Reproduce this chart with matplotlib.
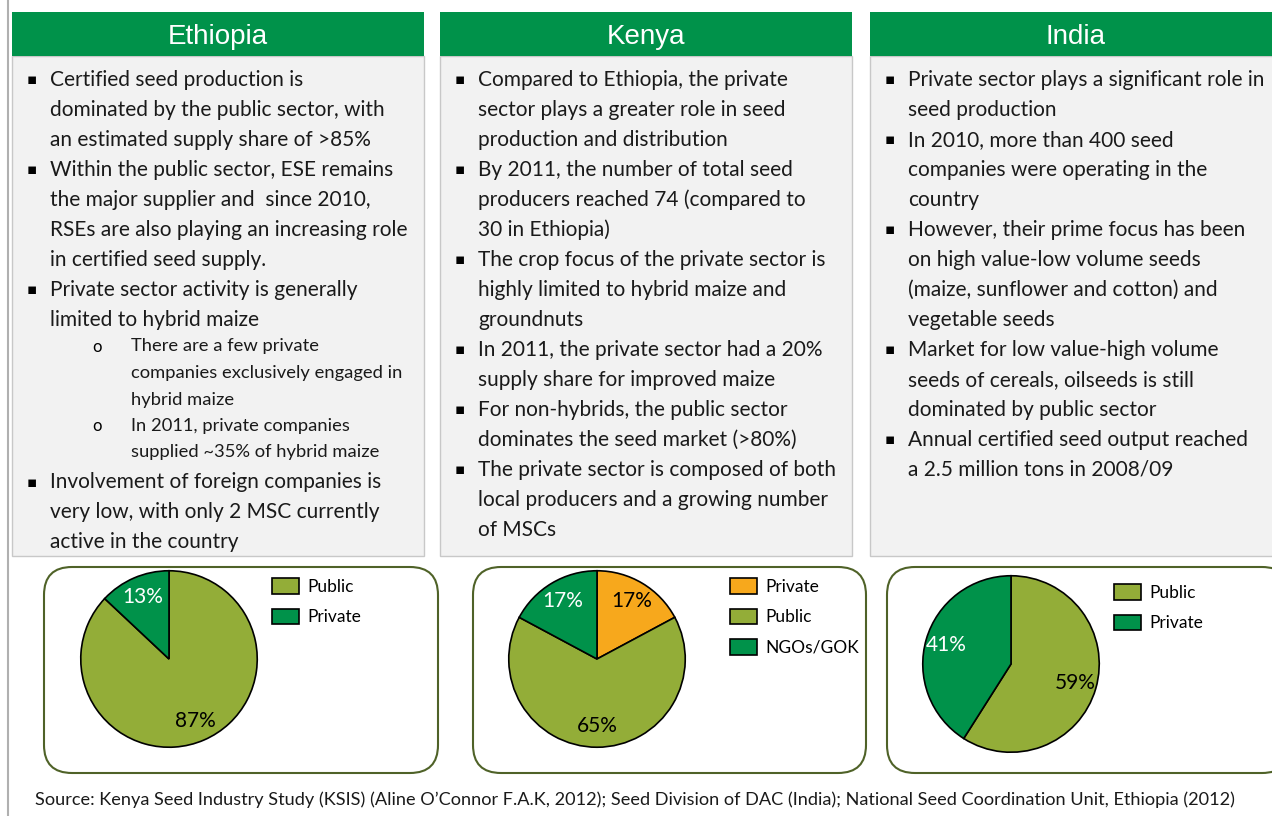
import matplotlib.pyplot as plt
from matplotlib.patches import Rectangle, FancyBboxPatch

plt.rcParams['font.family'] = ['Lato', 'DejaVu Sans']

W, H = 1272, 816

# ---- data ----
countries = ["Ethiopia", "Kenya", "India"]

eth_labels = ["Public", "Private"]
eth_share = [87, 13]
ken_labels = ["Private", "Public", "NGOs/GOK"]
ken_share = [17, 65, 17]
ind_labels = ["Public", "Private"]
ind_share = [59, 41]

eth_text = [
    (0, ["Certified seed production is", "dominated by the public sector, with",
         "an estimated supply share of >85%"]),
    (0, ["Within the public sector, ESE remains", "the major supplier and  since 2010,",
         "RSEs are also playing an increasing role", "in certified seed supply."]),
    (0, ["Private sector activity is generally", "limited to hybrid maize"]),
    (1, ["There are a few private", "companies exclusively engaged in", "hybrid maize"]),
    (1, ["In 2011, private companies", "supplied ~35% of hybrid maize"]),
    (0, ["Involvement of foreign companies is", "very low, with only 2 MSC currently",
         "active in the country"]),
]
ken_text = [
    (0, ["Compared to Ethiopia, the private", "sector plays a greater role in seed",
         "production and distribution"]),
    (0, ["By 2011, the number of total seed", "producers reached 74 (compared to",
         "30 in Ethiopia)"]),
    (0, ["The crop focus of the private sector is", "highly limited to hybrid maize and",
         "groundnuts"]),
    (0, ["In 2011, the private sector had a 20%", "supply share for improved maize"]),
    (0, ["For non-hybrids, the public sector", "dominates the seed market (>80%)"]),
    (0, ["The private sector is composed of both", "local producers and a growing number",
         "of MSCs"]),
]
ind_text = [
    (0, ["Private sector plays a significant role in", "seed production"]),
    (0, ["In 2010, more than 400 seed", "companies were operating in the", "country"]),
    (0, ["However, their prime focus has been", "on high value-low volume seeds",
         "(maize, sunflower and cotton) and", "vegetable seeds"]),
    (0, ["Market for low value-high volume", "seeds of cereals, oilseeds is still",
         "dominated by public sector"]),
    (0, ["Annual certified seed output reached", "a 2.5 million tons in 2008/09"]),
]

source = ("Source: Kenya Seed Industry Study (KSIS) (Aline O\u2019Connor F.A.K, 2012); "
          "Seed Division of DAC (India); National Seed Coordination Unit, Ethiopia (2012)")

GREEN = "#00924A"
OLIVE = "#93AD38"
ORANGE = "#F7A81C"

fig = plt.figure(figsize=(W / 100, H / 100), dpi=100)
bg = fig.add_axes([0, 0, 1, 1])
bg.set_xlim(0, W)
bg.set_ylim(H, 0)
bg.axis("off")

bg.plot([8, 8], [0, H], color="#B0B0B0", lw=1.5)

panel_x = [12, 440, 870]
panel_w = [412, 412, 420]
texts = [eth_text, ken_text, ind_text]

for name, x0, w, items in zip(countries, panel_x, panel_w, texts):
    bg.add_patch(Rectangle((x0, 56), w, 500, facecolor="#F2F2F2", edgecolor="#C8C8C8", lw=1))
    bg.add_patch(Rectangle((x0, 12), w, 44, facecolor=GREEN, edgecolor="none"))
    bg.text(x0 + 206, 37.5, name, color="white", fontsize=20, ha="center", va="center",
            family="Liberation Sans")
    y = 50
    for level, lines in items:
        for i, line in enumerate(lines):
            y += 30 if level == 0 else 26.5
            if level == 0:
                if i == 0:
                    bg.text(x0 + 20, y, "\u25aa", fontsize=11, ha="center", va="center",
                            family="DejaVu Sans")
                bg.text(x0 + 38, y, line, fontsize=15, va="center", color="#1a1a1a")
            else:
                if i == 0:
                    bg.text(x0 + 85, y, "o", fontsize=12, ha="center", va="center")
                bg.text(x0 + 119, y, line, fontsize=13.2, va="center", color="#1a1a1a")

# pie frames
frames = [(44, 438), (473, 866), (887, 1290)]
for l, r in frames:
    bg.add_patch(FancyBboxPatch((l + 28, 567 + 28), r - l - 56, 206 - 56,
                                boxstyle="round,pad=28", facecolor="white",
                                edgecolor="#4F6228", lw=1.5))

bg.text(35, 800, source, fontsize=13.1, va="center", color="#1a1a1a")

pies = [
    (eth_labels, eth_share, [OLIVE, GREEN], (169, 659), (272, 578)),
    (ken_labels, ken_share, [ORANGE, OLIVE, GREEN], (597, 659), (730, 578)),
    (ind_labels, ind_share, [OLIVE, GREEN], (1011, 664), (1114, 584)),
]
R = 90
for labels, vals, cols, (cx, cy), (lx, ly) in pies:
    ax = fig.add_axes([(cx - R) / W, (H - cy - R) / H, 2 * R / W, 2 * R / H])
    total = sum(vals)
    wedges, _, autotexts = ax.pie(vals, colors=cols, startangle=90, counterclock=False,
                                  autopct=lambda p, t=total: "%d%%" % round(p * t / 100),
                                  pctdistance=0.76,
                                  wedgeprops=dict(edgecolor="black", linewidth=1.2),
                                  textprops=dict(fontsize=15))
    for t, c in zip(autotexts, cols):
        t.set_color("white" if c == GREEN else "black")
    ax.set_xlim(-1.02, 1.02)
    ax.set_ylim(-1.02, 1.02)
    ax.set_aspect("equal")
    ax.patch.set_alpha(0)
    ax.legend(wedges, labels, loc="upper left", bbox_to_anchor=(lx, ly),
              bbox_transform=bg.transData, frameon=False, fontsize=12.5,
              handlelength=1.55, handleheight=1.0, labelspacing=0.8,
              handletextpad=0.5, borderpad=0, borderaxespad=0)

fig.savefig("out.png", dpi=100)
